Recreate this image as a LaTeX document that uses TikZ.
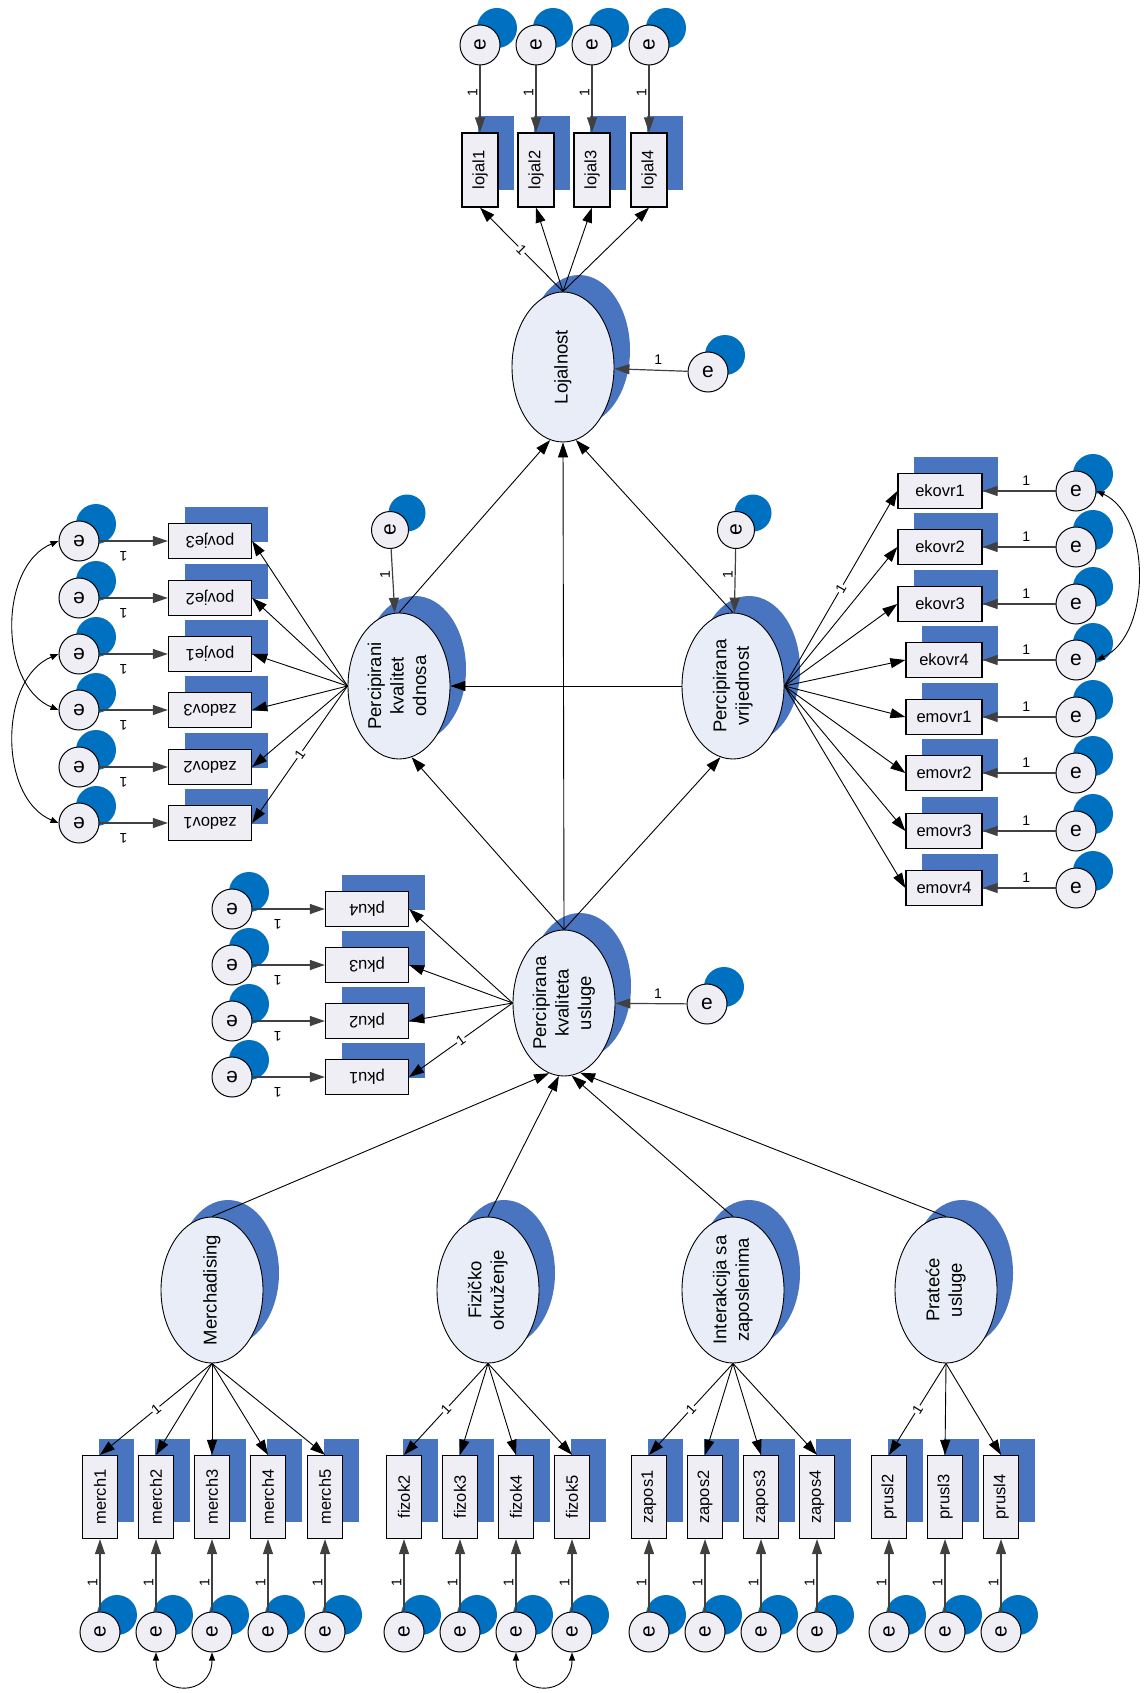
\documentclass[tikz,border=0pt]{standalone}
\usepackage{fontspec}
\setmainfont{Liberation Sans}
\usetikzlibrary{shapes.geometric,shadows,arrows.meta}
\definecolor{latfill}{HTML}{E8EDF7}
\definecolor{obsfill}{HTML}{F0EEF5}
\definecolor{shadeblue}{HTML}{4874C0}
\definecolor{errblue}{HTML}{0070C0}
\newcommand{\vtext}[1]{\rotatebox{90}{\begin{tabular}{@{}c@{}}#1\end{tabular}}}
\newcommand{\utext}[1]{\rotatebox{180}{#1}}

\begin{document}
\begin{tikzpicture}[x=1pt, y=-1pt,
    latent/.style={ellipse, draw, line width=0.9pt, fill=latfill, minimum width=102pt, minimum height=146pt, inner sep=-8pt,
                   font=\fontsize{18.5}{22.5}\selectfont, general shadow={fill=shadeblue, shadow xshift=16pt, shadow yshift=17pt}},
    obs/.style={rectangle, draw, line width=1.3pt, fill=obsfill, inner sep=0pt, font=\fontsize{16.5}{18}\selectfont,
                general shadow={fill=shadeblue, shadow xshift=16pt, shadow yshift=17pt}},
    hobs/.style={obs, minimum width=83pt, minimum height=35pt},
    vobs/.style={obs, minimum width=35pt, minimum height=83pt},
    err/.style={circle, draw, line width=1pt, fill=obsfill, minimum size=40pt, inner sep=0pt, font=\fontsize{21}{21}\selectfont,
                general shadow={fill=errblue, shadow xshift=17pt, shadow yshift=17pt}},
    reg/.style={line width=0.9pt, -{Triangle[length=15pt,width=10pt]}},
    erreg/.style={reg, line width=1.2pt, black!75},
    cov/.style={line width=0.9pt, {Triangle[length=8pt,width=6pt]}-{Triangle[length=8pt,width=6pt]}},
    fix/.style={font=\fontsize{14}{14}\selectfont, inner sep=2pt, text=black},
    fanfix/.style={fix, sloped, fill=white, inner sep=0.5pt}]
\useasboundingbox (0,0) rectangle (1144,1693);

\node[latent, minimum height=150pt] (loj) at (563,367) {\vtext{Lojalnost}};
\node[latent] (pko) at (399,686) {\vtext{Percipirani\\kvalitet\\odnosa}};
\node[latent] (pv) at (733,686) {\vtext{Percipirana\\vrijednost}};
\node[latent] (pku) at (564,1003) {\vtext{Percipirana\\kvaliteta\\usluge}};
\node[latent] (merch) at (212,1290) {\vtext{Merchadising}};
\node[latent] (fiz) at (488,1290) {\vtext{Fizičko\\okruženje}};
\node[latent] (inter) at (733,1290) {\vtext{Interakcija sa\\zaposlenima}};
\node[latent] (prat) at (946,1290) {\vtext{Prateće\\usluge}};

\node[err] (eloj) at (708,372) {e};
\node[err, minimum size=37pt] (epko) at (390,530) {\rotatebox{90}{e}};
\node[err, minimum size=37pt] (epv) at (736,530) {\rotatebox{90}{e}};
\node[err] (epku) at (707,1004) {e};

\foreach \n/\x in {lojal1/480,lojal2/536,lojal3/592,lojal4/649}{
  \node[vobs, minimum width=36pt, minimum height=74pt] (\n) at (\x,170) {\rotatebox{90}{\n}};
  \node[err] (e\n) at (\x,45) {\rotatebox{90}{e}};
}
\foreach \n/\y in {povje3/541,povje2/598,povje1/654,zadov3/710,zadov2/767,zadov1/823}{
  \node[hobs] (\n) at (210,\y) {\utext{\n}};
  \node[err] (e\n) at (79,\y) {\utext{e}};
}
\foreach \n/\y in {pku4/909,pku3/965,pku2/1021,pku1/1077}{
  \node[hobs] (\n) at (367,\y) {\utext{\n}};
  \node[err] (e\n) at (232,\y) {\utext{e}};
}
\foreach \n/\x/\w/\y in {ekovr1/940/84/491,ekovr2/940/84/547,ekovr3/940/84/604,ekovr4/944/76/660,
                         emovr1/944/76/717,emovr2/944/76/773,emovr3/944/76/831,emovr4/944/76/888}{
  \node[hobs, minimum width=\w pt] (\n) at (\x,\y) {\n};
  \node[err] (e\n) at (1076,\y) {e};
}
\foreach \n/\x in {merch1/100,merch2/156,merch3/212,merch4/268,merch5/325,fizok2/404,fizok3/460,fizok4/516,fizok5/572,
                   zapos1/649,zapos2/705,zapos3/761,zapos4/817,prusl2/889,prusl3/945,prusl4/1001}{
  \node[vobs] (\n) at (\x,1497) {\rotatebox{90}{\n}};
  \node[err] (e\n) at (\x,1632) {\rotatebox{90}{e}};
}

\foreach \n in {lojal1,lojal2,lojal3,lojal4,merch1,merch2,merch3,merch4,merch5,fizok2,fizok3,fizok4,fizok5,
                zapos1,zapos2,zapos3,zapos4,prusl2,prusl3,prusl4}{
  \draw[erreg] (e\n) -- node[fix, left, pos=0.4] {\rotatebox{90}{1}} (\n);
}
\foreach \n in {povje3,povje2,povje1,zadov3,zadov2,zadov1,pku4,pku3,pku2,pku1}{
  \draw[erreg] (e\n) -- node[fix, pos=0.35, yshift=-15pt] {\utext{1}} (\n);
}
\foreach \n in {ekovr1,ekovr2,ekovr3,ekovr4,emovr1,emovr2,emovr3,emovr4}{
  \draw[erreg] (e\n) -- node[fix, above=3pt, pos=0.4] {1} (\n);
}
\draw[erreg] (eloj) -- node[fix, above=3pt, pos=0.4] {1} (loj);
\draw[erreg] (epku) -- node[fix, above=3pt, pos=0.4] {1} (pku);
\draw[erreg] (epko) -- node[fix, left, pos=0.4] {\rotatebox{90}{1}} (pko);
\draw[erreg] (epv) -- node[fix, left, pos=0.4] {\rotatebox{90}{1}} (pv);

\draw[reg] (loj.north) -- node[fanfix] {1} (lojal1.south);
\foreach \n in {lojal2,lojal3,lojal4}{\draw[reg] (loj.north) -- (\n.south);}
\draw[reg] (pko.west) -- node[fanfix] {1} (zadov1.east);
\foreach \n in {povje3,povje2,povje1,zadov3,zadov2}{\draw[reg] (pko.west) -- (\n.east);}
\draw[reg] (pv.east) -- node[fanfix] {1} (ekovr1.west);
\foreach \n in {ekovr2,ekovr3,ekovr4,emovr1,emovr2,emovr3,emovr4}{\draw[reg] (pv.east) -- (\n.west);}
\draw[reg] (pku.west) -- node[fanfix] {1} (pku1.east);
\foreach \n in {pku4,pku3,pku2}{\draw[reg] (pku.west) -- (\n.east);}
\draw[reg] (merch.south) -- node[fanfix] {1} (merch1.north);
\foreach \n in {merch2,merch3,merch4,merch5}{\draw[reg] (merch.south) -- (\n.north);}
\draw[reg] (fiz.south) -- node[fanfix] {1} (fizok2.north);
\foreach \n in {fizok3,fizok4,fizok5}{\draw[reg] (fiz.south) -- (\n.north);}
\draw[reg] (inter.south) -- node[fanfix] {1} (zapos1.north);
\foreach \n in {zapos2,zapos3,zapos4}{\draw[reg] (inter.south) -- (\n.north);}
\draw[reg] (prat.south) -- node[fanfix] {1} (prusl2.north);
\foreach \n in {prusl3,prusl4}{\draw[reg] (prat.south) -- (\n.north);}

\draw[reg] (pko.north) -- (loj.260);
\draw[reg] (pku.north) -- (loj.south);
\draw[reg] (pv.north) -- (loj.280);
\draw[reg] (pv.west) -- (pko.east);
\draw[reg] (pku.north) -- (pko.280);
\draw[reg] (pku.north) -- (pv.260);
\draw[reg] (merch.north) -- (pku.258);
\draw[reg] (fiz.north) -- (pku.266);
\draw[reg] (inter.north) -- (pku.276);
\draw[reg] (prat.north) -- (pku.283);

\draw[cov] (epovje3.west) .. controls +(-60,25) and +(-60,-25) .. (ezadov3.west);
\draw[cov] (epovje1.west) .. controls +(-60,25) and +(-60,-25) .. (ezadov1.west);
\draw[cov] (eekovr1.east) .. controls +(55,25) and +(55,-25) .. (eekovr4.east);
\draw[cov] (emerch2.south) .. controls +(0,45) and +(0,45) .. (emerch3.south);
\draw[cov] (efizok4.south) .. controls +(0,45) and +(0,45) .. (efizok5.south);
\end{tikzpicture}
\end{document}
